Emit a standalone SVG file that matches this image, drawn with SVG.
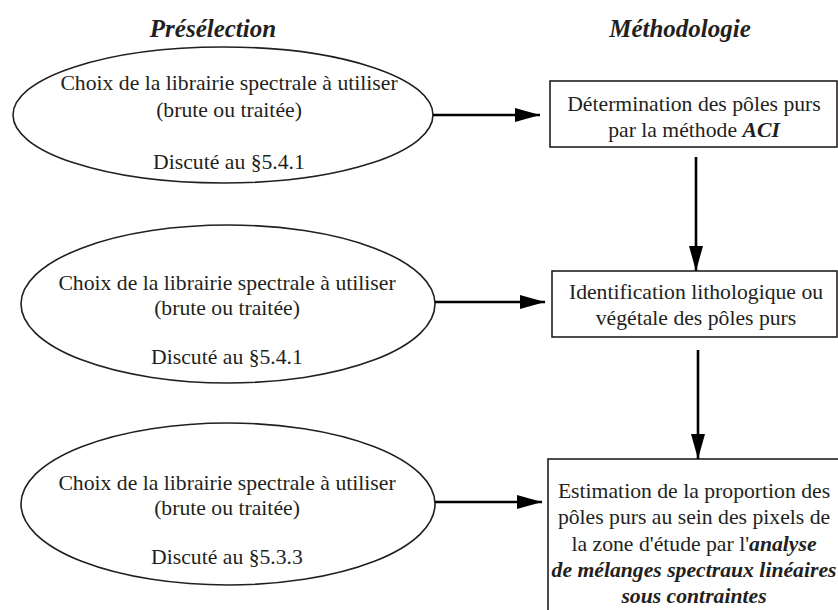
<svg xmlns="http://www.w3.org/2000/svg" width="838" height="610" viewBox="0 0 838 610">
<style>
.t{font-family:"Liberation Serif","Times New Roman",serif;font-size:21.7px;fill:#231f20;text-anchor:middle}
.h{font-family:"Liberation Serif","Times New Roman",serif;font-size:25px;font-weight:bold;font-style:italic;fill:#231f20;text-anchor:middle}
.bi{font-weight:bold;font-style:italic}
.node{fill:#fff;stroke:#231f20;stroke-width:1.6}
.con{stroke:#000;stroke-width:2.6;fill:none}
</style>
<defs>
<marker id="ah" markerUnits="userSpaceOnUse" markerWidth="26" markerHeight="16" refX="25" refY="7" orient="auto">
<path d="M0,0 L25,7 L0,14 Z" fill="#000"/>
</marker>
</defs>
<rect width="838" height="610" fill="#fff"/>
<text class="h" x="213" y="37">Présélection</text>
<text class="h" x="680" y="37">Méthodologie</text>
<g id="e1">
<ellipse class="node" cx="223" cy="115" rx="210" ry="68"/>
<text class="t" x="229" y="90">Choix de la librairie spectrale à utiliser</text>
<text class="t" x="229" y="117">(brute ou traitée)</text>
<text class="t" x="229" y="169">Discuté au §5.4.1</text>
</g>
<g id="e2">
<ellipse class="node" cx="228" cy="304" rx="207" ry="79"/>
<text class="t" x="227" y="290">Choix de la librairie spectrale à utiliser</text>
<text class="t" x="227" y="315">(brute ou traitée)</text>
<text class="t" x="227" y="364">Discuté au §5.4.1</text>
</g>
<g id="e3">
<ellipse class="node" cx="228" cy="504" rx="207" ry="81"/>
<text class="t" x="227" y="490">Choix de la librairie spectrale à utiliser</text>
<text class="t" x="227" y="515">(brute ou traitée)</text>
<text class="t" x="227" y="564">Discuté au §5.3.3</text>
</g>
<g id="b1">
<rect class="node" x="550" y="81" width="287" height="66"/>
<text class="t" x="694" y="111">Détermination des pôles purs</text>
<text class="t" x="694" y="137">par la méthode <tspan class="bi">ACI</tspan></text>
</g>
<g id="b2">
<rect class="node" x="552" y="271" width="285" height="66"/>
<text class="t" x="696" y="299">Identification lithologique ou</text>
<text class="t" x="696" y="325">végétale des pôles purs</text>
</g>
<g id="b3">
<rect class="node" x="548" y="459" width="300" height="200"/>
<text class="t" x="694" y="498">Estimation de la proportion des</text>
<text class="t" x="694" y="524">pôles purs au sein des pixels de</text>
<text class="t" x="694" y="551">la zone d'étude par l'<tspan class="bi">analyse</tspan></text>
<text class="t bi" x="694" y="577">de mélanges spectraux linéaires</text>
<text class="t bi" x="694" y="603">sous contraintes</text>
</g>
<g id="connectors">
<line class="con" x1="433" y1="115" x2="540" y2="115" marker-end="url(#ah)"/>
<line class="con" x1="435" y1="302" x2="545" y2="302" marker-end="url(#ah)"/>
<line class="con" x1="435" y1="502" x2="542" y2="502" marker-end="url(#ah)"/>
<line class="con" x1="696" y1="157" x2="696" y2="271" marker-end="url(#ah)"/>
<line class="con" x1="698" y1="350" x2="698" y2="459" marker-end="url(#ah)"/>
</g>
</svg>
